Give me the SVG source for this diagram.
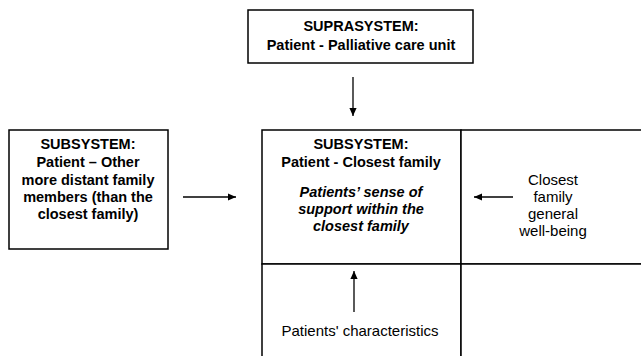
<svg xmlns="http://www.w3.org/2000/svg" width="641" height="356" viewBox="0 0 641 356">
<defs>
<marker id="ah" viewBox="0 0 10 10" refX="10" refY="5" markerWidth="8" markerHeight="8" markerUnits="userSpaceOnUse" orient="auto"><path d="M0,0.5 L10,5 L0,9.5 z" fill="#000"/></marker>
<style>
.box{fill:#fff;stroke:#000;stroke-width:1.5}
.t{font-family:"Liberation Sans",Arial,sans-serif;font-size:15px;text-anchor:middle;fill:#000}
.b{font-weight:bold;font-size:14.5px}
.i{font-style:italic;font-weight:bold;font-size:14.5px}
.c{stroke:#000;stroke-width:1.3;fill:none;marker-end:url(#ah)}
</style>
</defs>
<rect width="641" height="356" fill="#fff"/>
<g id="suprasystem">
<rect class="box" x="248" y="10" width="225" height="53"/>
<text class="t b" x="361" y="31">SUPRASYSTEM:</text>
<text class="t b" x="361" y="50">Patient - Palliative care unit</text>
</g>
<g id="subsystem-distant">
<rect class="box" x="9" y="130" width="159" height="119"/>
<text class="t b" x="88" y="149">SUBSYSTEM:</text>
<text class="t b" x="88" y="167">Patient – Other</text>
<text class="t b" x="88" y="185">more distant family</text>
<text class="t b" x="88" y="202">members (than the</text>
<text class="t b" x="88" y="219">closest family)</text>
</g>
<g id="subsystem-closest">
<rect class="box" x="262" y="130" width="199" height="134"/>
<text class="t b" x="361" y="149">SUBSYSTEM:</text>
<text class="t b" x="361" y="167">Patient - Closest family</text>
<text class="t i" x="361" y="197">Patients’ sense of</text>
<text class="t i" x="361" y="214">support within the</text>
<text class="t i" x="361" y="231">closest family</text>
</g>
<g id="family-wellbeing">
<rect class="box" x="461" y="130" width="182" height="134"/>
<text class="t" x="553" y="185">Closest</text>
<text class="t" x="553" y="202">family</text>
<text class="t" x="553" y="219">general</text>
<text class="t" x="553" y="236">well-being</text>
</g>
<g id="patient-characteristics">
<rect class="box" x="262" y="264" width="199" height="95"/>
<text class="t" x="360" y="336">Patients' characteristics</text>
</g>
<g id="empty-cell">
<rect class="box" x="461" y="264" width="182" height="95"/>
</g>
<g id="connectors">
<line class="c" x1="353" y1="77" x2="353" y2="116"/>
<line class="c" x1="183" y1="197" x2="236" y2="197"/>
<line class="c" x1="513" y1="197" x2="474" y2="197"/>
<line class="c" x1="354" y1="312" x2="354" y2="271"/>
</g>
</svg>
